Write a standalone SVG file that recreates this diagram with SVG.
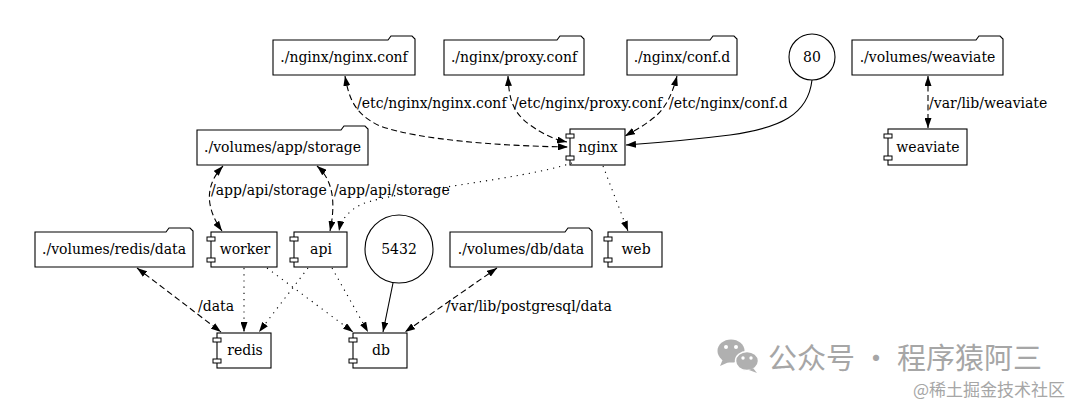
<svg xmlns="http://www.w3.org/2000/svg" width="1080" height="404" viewBox="0 0 1080 404">
<defs>
<marker id="arr" viewBox="0 0 10 7" refX="10" refY="3.5" markerWidth="10" markerHeight="7" markerUnits="userSpaceOnUse" orient="auto-start-reverse"><path d="M0,0 L10,3.5 L0,7 Z" fill="#000"/></marker>
</defs>
<style>
.n{fill:#fff;stroke:#000;stroke-width:1.1}
.p{fill:#fff;stroke:#000;stroke-width:1}
.t{font-family:"DejaVu Serif",serif;font-size:14px;fill:#000;text-anchor:middle}
.l{font-family:"DejaVu Serif",serif;font-size:14px;fill:#000}
.e{fill:none;stroke:#000;stroke-width:1.1}
.da{stroke-dasharray:6,3.5}
.do{stroke-dasharray:1.2,5}
.wm{font-family:"Noto Sans CJK SC",sans-serif;fill:#a6a6a6}
</style>
<rect width="1080" height="404" fill="#fff"/>

<g id="nginx_conf"><path class="n" d="M273,40 L388,40 L391,36 L412,36 L415,39 L415,75 L273,75 Z"/><text class="t" x="344" y="62">./nginx/nginx.conf</text></g>
<g id="proxy_conf"><path class="n" d="M444,40 L557,40 L560,36 L581,36 L584,39 L584,75 L444,75 Z"/><text class="t" x="514" y="62">./nginx/proxy.conf</text></g>
<g id="conf_d"><path class="n" d="M627,40 L710,40 L713,36 L734,36 L737,39 L737,75 L627,75 Z"/><text class="t" x="682" y="62">./nginx/conf.d</text></g>
<g id="port80"><circle class="n" cx="812" cy="57" r="23"/><text class="t" x="812" y="62">80</text></g>
<g id="weaviate_vol"><path class="n" d="M852,40 L976,40 L979,36 L1000,36 L1003,39 L1003,75 L852,75 Z"/><text class="t" x="927.5" y="62">./volumes/weaviate</text></g>
<g id="nginx"><rect class="n" x="570" y="129" width="55" height="36"/><rect class="p" x="566" y="134" width="8" height="4"/><rect class="p" x="566" y="156" width="8" height="4"/><text class="t" x="598" y="152">nginx</text></g>
<g id="weaviate"><rect class="n" x="888" y="129" width="79" height="36"/><rect class="p" x="884" y="134" width="8" height="4"/><rect class="p" x="884" y="156" width="8" height="4"/><text class="t" x="928" y="152">weaviate</text></g>
<g id="app_storage"><path class="n" d="M197,130 L341,130 L344,126 L365,126 L368,129 L368,165 L197,165 Z"/><text class="t" x="282.5" y="152">./volumes/app/storage</text></g>
<g id="redis_vol"><path class="n" d="M35,232 L166,232 L169,228 L190,228 L193,231 L193,267 L35,267 Z"/><text class="t" x="114" y="254">./volumes/redis/data</text></g>
<g id="worker"><rect class="n" x="211" y="232" width="66" height="35"/><rect class="p" x="207" y="237" width="8" height="4"/><rect class="p" x="207" y="258" width="8" height="4"/><text class="t" x="245" y="254">worker</text></g>
<g id="api"><rect class="n" x="294" y="232" width="53" height="35"/><rect class="p" x="290" y="237" width="8" height="4"/><rect class="p" x="290" y="258" width="8" height="4"/><text class="t" x="321" y="254">api</text></g>
<g id="port5432"><circle class="n" cx="399" cy="249" r="34"/><text class="t" x="399" y="254">5432</text></g>
<g id="db_vol"><path class="n" d="M450,232 L565,232 L568,228 L589,228 L592,231 L592,267 L450,267 Z"/><text class="t" x="521" y="254">./volumes/db/data</text></g>
<g id="web"><rect class="n" x="608" y="232" width="54" height="35"/><rect class="p" x="604" y="237" width="8" height="4"/><rect class="p" x="604" y="258" width="8" height="4"/><text class="t" x="636" y="254">web</text></g>
<g id="redis"><rect class="n" x="217" y="333" width="54" height="35"/><rect class="p" x="213" y="338" width="8" height="4"/><rect class="p" x="213" y="359" width="8" height="4"/><text class="t" x="245" y="355">redis</text></g>
<g id="db"><rect class="n" x="353" y="333" width="54" height="35"/><rect class="p" x="349" y="338" width="8" height="4"/><rect class="p" x="349" y="359" width="8" height="4"/><text class="t" x="381" y="355">db</text></g>

<g id="connectors">
<path class="e da" d="M345,76 C349,98 354,114 380,126 C420,140 500,146 568,147" marker-start="url(#arr)" marker-end="url(#arr)"/>
<path class="e da" d="M508,76 C509,98 512,112 530,125 C543,134 553,139 567,142" marker-start="url(#arr)" marker-end="url(#arr)"/>
<path class="e da" d="M677,76 C672,95 665,110 652,119 C642,127 634,131 625,136" marker-start="url(#arr)" marker-end="url(#arr)"/>
<path class="e" d="M812,80 C808,115 780,128 730,135 C690,140 655,143 626,145" marker-end="url(#arr)"/>
<path class="e da" d="M928,76 L928,128" marker-start="url(#arr)" marker-end="url(#arr)"/>
<path class="e do" d="M572,163 C520,180 400,190 362,204 C348,211 341,220 339,231" marker-end="url(#arr)"/>
<path class="e do" d="M603,166 L628,231" marker-end="url(#arr)"/>
<path class="e da" d="M223,166 C205,185 205,207 222,231" marker-start="url(#arr)" marker-end="url(#arr)"/>
<path class="e da" d="M317,166 C333,180 336,202 330,231" marker-start="url(#arr)" marker-end="url(#arr)"/>
<path class="e da" d="M137,268 L221,332" marker-start="url(#arr)" marker-end="url(#arr)"/>
<path class="e do" d="M244,268 L244,332" marker-end="url(#arr)"/>
<path class="e do" d="M308,268 L259,332" marker-end="url(#arr)"/>
<path class="e do" d="M267,268 L353,332" marker-end="url(#arr)"/>
<path class="e do" d="M332,268 L368,332" marker-end="url(#arr)"/>
<path class="e" d="M393,283 L383,332" marker-end="url(#arr)"/>
<path class="e da" d="M497,268 L405,332" marker-start="url(#arr)" marker-end="url(#arr)"/>
<text class="l" x="357" y="108">/etc/nginx/nginx.conf</text>
<text class="l" x="514" y="108">/etc/nginx/proxy.conf</text>
<text class="l" x="669" y="108">/etc/nginx/conf.d</text>
<text class="l" x="929" y="108">/var/lib/weaviate</text>
<text class="l" x="211" y="195">/app/api/storage</text>
<text class="l" x="334" y="195">/app/api/storage</text>
<text class="l" x="198" y="311">/data</text>
<text class="l" x="446" y="311">/var/lib/postgresql/data</text>
</g>

<g id="watermark">
<ellipse cx="731" cy="351" rx="13.5" ry="11.5" fill="#b0b0b0"/>
<path d="M723,359 L720,366 L729,362 Z" fill="#b0b0b0"/>
<ellipse cx="747" cy="361" rx="11.5" ry="9.5" fill="#b0b0b0" stroke="#fff" stroke-width="1.5"/>
<path d="M753,368 L757,373 L749,370 Z" fill="#b0b0b0"/>
<circle cx="726" cy="347" r="2" fill="#fff"/><circle cx="736" cy="347" r="2" fill="#fff"/>
<circle cx="743" cy="358" r="1.7" fill="#fff"/><circle cx="751" cy="358" r="1.7" fill="#fff"/>
<text class="wm" x="768" y="369" font-size="29">公众号 · 程序猿阿三</text>
<text class="wm" x="913" y="396" font-size="17">@稀土掘金技术社区</text>
</g>
</svg>
